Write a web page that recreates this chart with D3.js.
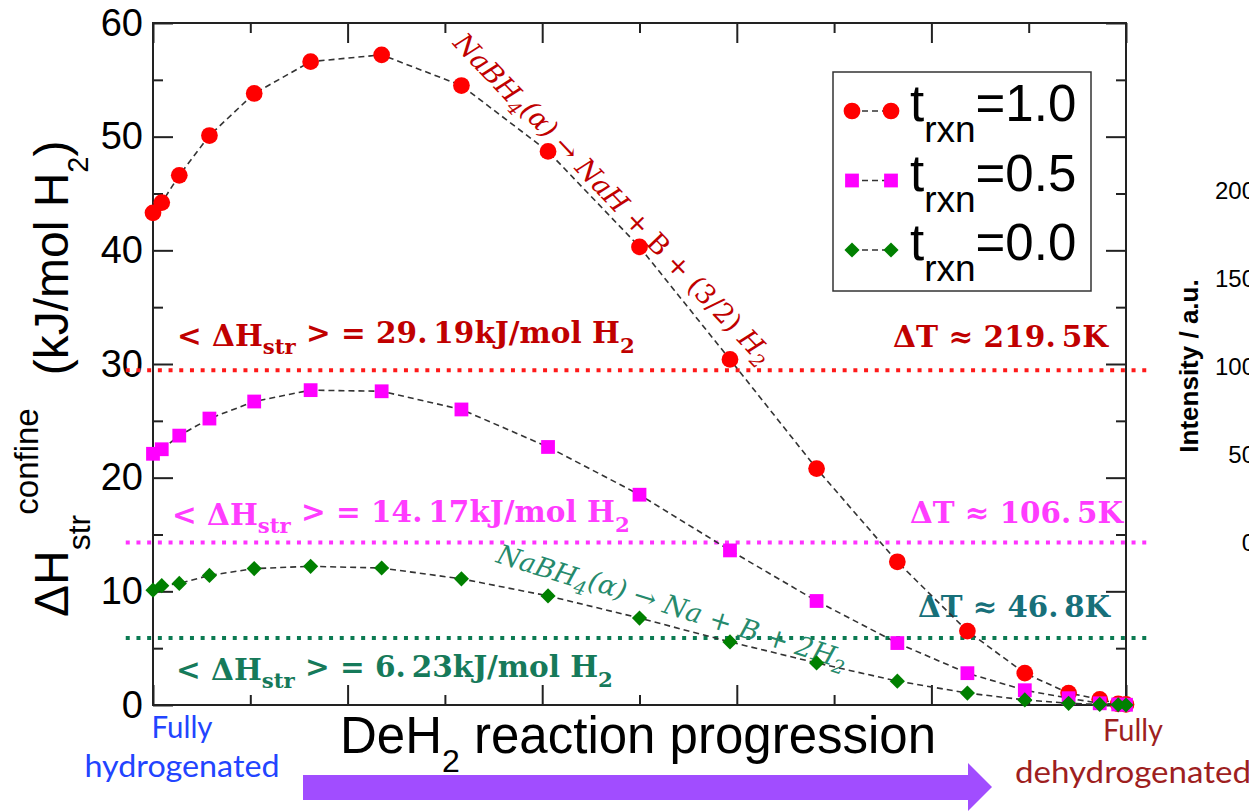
<!DOCTYPE html>
<html>
<head>
<meta charset="utf-8">
<script src="https://cdn.jsdelivr.net/npm/d3@7"></script>
<style>
  body { margin: 0; background: #fff; }
  svg { display: block; }
</style>
</head>
<body>
<svg id="chart" width="1249" height="812"></svg>
<script>
// reaction progression (fraction of DeH2), shared by all three sets
const progress = [0, 0.009, 0.027, 0.058, 0.104, 0.162, 0.235, 0.317, 0.406, 0.5,
  0.593, 0.682, 0.765, 0.837, 0.896, 0.941, 0.973, 0.992, 1.0];

// dH_str^confine (kJ/mol H2) per t_rxn
const dhT10 = [43.3, 44.2, 46.6, 50.1, 53.8, 56.6, 57.2, 54.5, 48.7, 40.3,
  30.4, 20.8, 12.6, 6.5, 2.8, 1.05, 0.5, 0.1, 0.05];
const dhT05 = [22.1, 22.5, 23.7, 25.2, 26.7, 27.7, 27.6, 26.0, 22.7, 18.5,
  13.6, 9.15, 5.45, 2.8, 1.3, 0.6, 0.15, 0.05, 0.02];
const dhT00 = [10.1, 10.5, 10.7, 11.4, 12.0, 12.2, 12.05, 11.1, 9.6, 7.65,
  5.55, 3.7, 2.1, 1.05, 0.45, 0.15, 0.05, 0.02, 0];

const legendLabels = ['1.0', '0.5', '0.0'];

// average lines (drawn level as read, printed value, temperature shift)
const meanLevels = [29.45, 14.3, 5.9];
const meanTexts = ['29.\u200919', '14.\u200917', '6.\u200923'];
const deltaTTexts = ['219.\u20095K', '106.\u20095K', '46.\u20098K'];

const yTicks = [0, 10, 20, 30, 40, 50, 60];
const yMinor = [5, 15, 25, 35, 45, 55];
const xMajor = [0, 0.2, 0.4, 0.6, 0.8, 1.0];
const xMinor = [0.1, 0.3, 0.5, 0.7, 0.9];
const intensityTicks = [0, 50, 100, 150, 200];

const svg = d3.select('#chart');
const sans = "'Liberation Sans', Arial, Helvetica, sans-serif";
const serif = "'DejaVu Serif', serif";

const x = d3.scaleLinear().domain([0, 1]).range([153, 1126]);
const y = d3.scaleLinear().domain([0, 60]).range([705, 23]);

function fitWidth(sel, target) {
  const w = sel.node().getComputedTextLength();
  const fs = parseFloat(sel.attr('font-size'));
  sel.attr('font-size', fs * target / w);
  return sel;
}

// ---- right-hand neighbour panel (clipped by the picture edge) ----
const iy = d3.scaleLinear().domain([0, 200]).range([542, 190]);
svg.append('g').selectAll('text')
  .data(intensityTicks)
  .join('text')
  .attr('x', 1255)
  .attr('y', d => iy(d))
  .attr('dy', '0.36em')
  .attr('text-anchor', 'end')
  .attr('font-family', sans)
  .attr('font-size', 24)
  .text(d => d);
svg.append('text')
  .attr('transform', `translate(1198, ${(iy(0) + iy(200)) / 2}) rotate(-90)`)
  .attr('text-anchor', 'middle')
  .attr('font-family', sans)
  .attr('font-weight', 'bold')
  .attr('font-size', 26)
  .text('Intensity / a.u.');

// ---- axes: ticks inward on all four sides ----
function addAxis(axis, tx, ty) {
  const g = svg.append('g').attr('transform', `translate(${tx},${ty})`).call(axis);
  g.select('.domain').remove();
  g.selectAll('line').attr('stroke', '#222').attr('stroke-width', 2);
  return g;
}
const leftAxis = addAxis(d3.axisLeft(y).tickValues(yTicks).tickSize(-20).tickPadding(10), x(0), 0);
leftAxis.selectAll('text').attr('font-size', 38).attr('font-family', sans).attr('fill', '#000');
addAxis(d3.axisLeft(y).tickValues(yMinor).tickSize(-10).tickFormat(''), x(0), 0);
addAxis(d3.axisRight(y).tickValues(yTicks).tickSize(-20).tickFormat(''), x(1), 0);
addAxis(d3.axisRight(y).tickValues(yMinor).tickSize(-10).tickFormat(''), x(1), 0);
addAxis(d3.axisBottom(x).tickValues(xMajor).tickSize(-20).tickFormat(''), 0, y(0));
addAxis(d3.axisBottom(x).tickValues(xMinor).tickSize(-10).tickFormat(''), 0, y(0));
addAxis(d3.axisTop(x).tickValues(xMajor).tickSize(-20).tickFormat(''), 0, y(60));
addAxis(d3.axisTop(x).tickValues(xMinor).tickSize(-10).tickFormat(''), 0, y(60));
svg.append('rect')
  .attr('x', x(0)).attr('y', y(60))
  .attr('width', x(1) - x(0)).attr('height', y(0) - y(60))
  .attr('fill', 'none').attr('stroke', '#222').attr('stroke-width', 2);

// ---- y label ----
const ylab = svg.append('text')
  .attr('transform', 'translate(68,617) rotate(-90)')
  .attr('font-family', sans)
  .attr('font-size', 48);
ylab.append('tspan').text('\u0394H');
ylab.append('tspan').attr('font-size', 32).attr('dy', 22).text('str');
ylab.append('tspan').attr('font-size', 33).attr('dy', -52).text('confine');
ylab.append('tspan').attr('font-size', 48).attr('dy', 30).attr('dx', 33).text('(kJ/mol H');
ylab.append('tspan').attr('font-size', 29).attr('dy', 20).text('2');
ylab.append('tspan').attr('font-size', 48).attr('dy', -20).text(')');

// ---- average lines ----
const meanLineColors = ['#ff1a1a', '#ff33ff', '#0b7a52'];
svg.append('g').selectAll('line')
  .data(meanLevels)
  .join('line')
  .attr('x1', x(-0.028)).attr('x2', x(1.025))
  .attr('y1', d => y(d)).attr('y2', d => y(d))
  .attr('stroke', (d, i) => meanLineColors[i])
  .attr('stroke-width', 4)
  .attr('stroke-dasharray', '4 6.7');

// mean labels
const meanTextColors = ['#c00000', '#ff3cff', '#167a5a'];
const meanPos = [[177, 346, 458], [172, 525, 458], [176, 680, 437]];
meanTexts.forEach((t, i) => {
  const txt = svg.append('text')
    .attr('x', meanPos[i][0]).attr('y', meanPos[i][1])
    .attr('font-family', serif).attr('font-weight', 'bold')
    .attr('font-size', 24)
    .attr('fill', meanTextColors[i]);
  txt.append('tspan').text('< \u0394H');
  txt.append('tspan').attr('font-size', '0.72em').attr('dy', '0.38em').text('str');
  txt.append('tspan').attr('dy', '-0.38em').text(` > = ${t}kJ/mol H`);
  txt.append('tspan').attr('font-size', '0.72em').attr('dy', '0.5em').text('2');
  fitWidth(txt, meanPos[i][2]);
});

// delta T labels
const dtColors = ['#c00000', '#ff3cff', '#17707a'];
const dtPos = [[1108, 347, 215], [1123, 523, 213], [1110, 617, 192]];
deltaTTexts.forEach((t, i) => {
  const txt = svg.append('text')
    .attr('x', dtPos[i][0]).attr('y', dtPos[i][1])
    .attr('text-anchor', 'end')
    .attr('font-family', serif).attr('font-weight', 'bold')
    .attr('font-size', 24)
    .attr('fill', dtColors[i])
    .text(`\u0394T \u2248 ${t}`);
  fitWidth(txt, dtPos[i][2]);
});

// ---- reaction annotations ----
const rxRed = svg.append('text')
  .attr('transform', 'translate(452,44) rotate(46.5)')
  .attr('font-family', serif).attr('font-style', 'italic')
  .attr('font-size', 24).attr('fill', '#c00000');
rxRed.append('tspan').text('NaBH');
rxRed.append('tspan').attr('font-size', '0.7em').attr('dy', '0.3em').text('4');
rxRed.append('tspan').attr('dy', '-0.3em').text('(\u03b1) \u2192 NaH');
rxRed.append('tspan').attr('font-style', 'normal').text(' + B + (3/2) ');
rxRed.append('tspan').text('H');
rxRed.append('tspan').attr('font-size', '0.7em').attr('dy', '0.3em').text('2');
fitWidth(rxRed, 446);

const rxGreen = svg.append('text')
  .attr('transform', 'translate(495,562) rotate(17.5)')
  .attr('font-family', serif).attr('font-style', 'italic')
  .attr('font-size', 24).attr('fill', '#268a6c');
rxGreen.append('tspan').text('NaBH');
rxGreen.append('tspan').attr('font-size', '0.7em').attr('dy', '0.3em').text('4');
rxGreen.append('tspan').attr('dy', '-0.3em').text('(\u03b1) \u2192 Na + B + 2H');
rxGreen.append('tspan').attr('font-size', '0.7em').attr('dy', '0.3em').text('2');
fitWidth(rxGreen, 365);

// ---- data series ----
const series = [
  { values: dhT10, color: '#ff0000', type: d3.symbolCircle, size: 220, rot: 0 },
  { values: dhT05, color: '#ff00ff', type: d3.symbolSquare, size: 190, rot: 0 },
  { values: dhT00, color: '#008000', type: d3.symbolSquare, size: 115, rot: 45 },
];
const line = d3.line().x(d => x(d[0])).y(d => y(d[1]));

series.forEach(s => {
  const pts = progress.map((p, i) => [p, s.values[i]]);
  svg.append('path')
    .datum(pts)
    .attr('d', line)
    .attr('fill', 'none')
    .attr('stroke', '#333')
    .attr('stroke-width', 1.6)
    .attr('stroke-dasharray', '6 4');
  svg.append('g').selectAll('path')
    .data(pts)
    .join('path')
    .attr('transform', d => `translate(${x(d[0])},${y(d[1])}) rotate(${s.rot})`)
    .attr('d', d3.symbol().type(s.type).size(s.size))
    .attr('fill', s.color);
});

// ---- legend ----
const legend = svg.append('g');
legend.append('rect')
  .attr('x', 833).attr('y', 72).attr('width', 258).attr('height', 219)
  .attr('fill', '#fff').attr('stroke', '#333').attr('stroke-width', 1.5);
legendLabels.forEach((lab, i) => {
  const s = series[i];
  const base = 121 + i * 69.5;
  const my = base - 10;
  legend.append('line')
    .attr('x1', 852).attr('x2', 891).attr('y1', my).attr('y2', my)
    .attr('stroke', '#333').attr('stroke-width', 1.6).attr('stroke-dasharray', '6 4');
  [852, 891].forEach(mx => {
    legend.append('path')
      .attr('transform', `translate(${mx},${my}) rotate(${s.rot})`)
      .attr('d', d3.symbol().type(s.type).size(s.size))
      .attr('fill', s.color);
  });
  const t = legend.append('text')
    .attr('x', 910).attr('y', base)
    .attr('font-family', sans).attr('font-size', 51);
  t.append('tspan').text('t');
  t.append('tspan').attr('font-size', 37).attr('dy', 21).text('rxn');
  t.append('tspan').attr('dy', -21).text('=' + lab);
});

// ---- bottom: progression label and arrow ----
const xt = svg.append('text')
  .attr('x', 340).attr('y', 753)
  .attr('font-family', sans).attr('font-size', 51);
xt.append('tspan').text('DeH');
xt.append('tspan').attr('font-size', 32).attr('dy', 19).text('2');
xt.append('tspan').attr('dy', -19).text(' reaction progression');

svg.append('path')
  .attr('d', 'M303,775 L968,775 L968,763 L992,787 L968,811 L968,800 L303,800 Z')
  .attr('fill', '#a14dff');

const endLabels = [
  { lines: ['Fully', 'hydrogenated'], cx: 182, ys: [738, 777], widths: [61, 195], color: '#2244ff' },
  { lines: ['Fully', 'dehydrogenated'], cx: 1133, ys: [741, 783], widths: [60, 236], color: '#9e1f1f' },
];
endLabels.forEach(e => {
  e.lines.forEach((ln, i) => {
    svg.append('text')
      .attr('x', e.cx).attr('y', e.ys[i])
      .attr('text-anchor', 'middle')
      .attr('font-family', "Lato, 'Open Sans', sans-serif")
      .attr('font-size', 30)
      .attr('fill', e.color)
      .attr('textLength', e.widths[i])
      .attr('lengthAdjust', 'spacingAndGlyphs')
      .text(ln);
  });
});
</script>
</body>
</html>
